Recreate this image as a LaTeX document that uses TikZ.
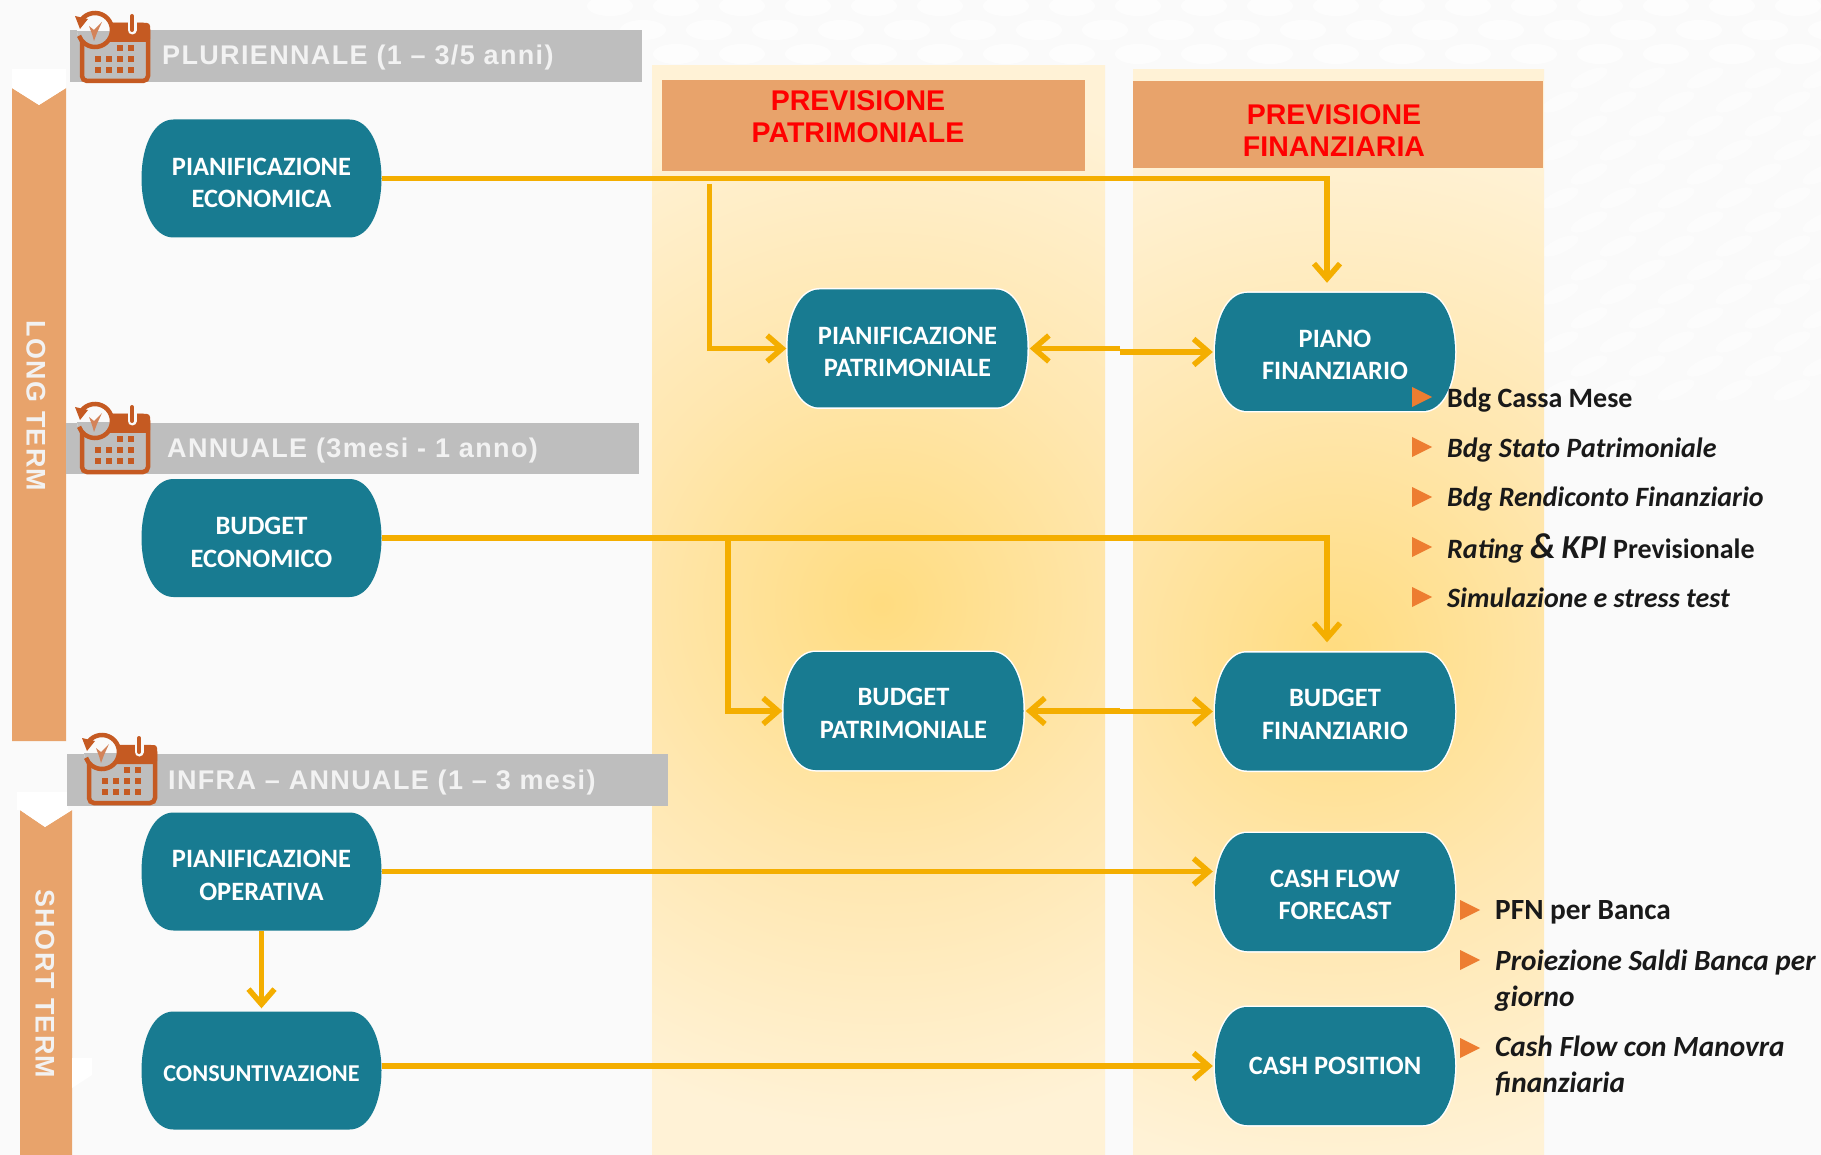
\documentclass[tikz,border=0pt]{standalone}
\usepackage{fontspec}
\usetikzlibrary{arrows.meta,calc}
\newfontfamily\carl{Carlito}
\newfontfamily\arsp[LetterSpace=5]{Liberation Sans}
\newfontfamily\arred{Liberation Sans}
\definecolor{bgc}{HTML}{FAFAFA}
\definecolor{tealn}{HTML}{187B91}
\definecolor{orbar}{HTML}{E8A36B}
\definecolor{grayb}{HTML}{BEBEBE}
\definecolor{goldl}{HTML}{F4AE00}
\definecolor{icon}{HTML}{C55A22}
\definecolor{tri}{HTML}{ED7D31}
\definecolor{glowc}{HTML}{FFDC80}
\definecolor{glowm}{HTML}{FFE7B0}
\definecolor{glowo}{HTML}{FFF2D6}
\pgfdeclareradialshading{glowa}{\pgfpointorigin}{color(0bp)=(glowc); color(11bp)=(glowm); color(22bp)=(glowo); color(71bp)=(glowo)}
\tikzset{
  proc/.style={minimum width=240pt,minimum height=118pt,inner sep=0pt},
  proctext/.style={inner sep=0pt,align=center,text=white,
    font=\carl\bfseries\fontsize{26.5}{32.5}\selectfont},
  conn/.style={draw=goldl,line width=5.5pt,line join=miter},
  arr/.style={conn,-{Straight Barb[length=15pt,width=26pt,line width=5.5pt]}},
  darr/.style={conn,{Straight Barb[length=15pt,width=26pt,line width=5.5pt]}-},
  bandlabel/.style={inner sep=0pt,anchor=west,text=white!95!black,
    font=\arsp\bfseries\fontsize{27}{30}\selectfont},
  headlabel/.style={inner sep=0pt,align=center,text=red,
    font=\arred\bfseries\fontsize{28.5}{32}\selectfont},
  termlabel/.style={inner sep=0pt,rotate=-90,text=white!95!black,
    font=\arsp\bfseries\fontsize{26.9}{30}\selectfont},
  listlabel/.style={inner sep=0pt,anchor=west,align=left,text=black!90,
    font=\carl\bfseries\fontsize{28}{36}\selectfont},
  listlabelb/.style={listlabel,font=\carl\bfseries\fontsize{29.3}{36}\selectfont},
  bullet/.pic={\fill[tri] (0,-10) -- (20,0) -- (0,10) -- cycle;},
  blob/.pic={\path[#1] (-120,0) .. controls (-120,-32) and (-108,-59) .. (-88,-59) -- (88,-59)
     .. controls (108,-59) and (120,-32) .. (120,0)
     .. controls (120,32) and (108,59) .. (88,59) -- (-88,59)
     .. controls (-108,59) and (-120,32) .. (-120,0) -- cycle;},
  calicon/.pic={
    \draw[icon,line width=4.5pt,rounded corners=5pt] (9,15) rectangle (75,71);
    \fill[icon,rounded corners=3pt] (7,13) rectangle (77,32);
    \draw[bgc,line width=9pt,line cap=round] (59,8) -- (59,20);
    \draw[icon,line width=4pt,line cap=round] (59,6) -- (59,20);
    \foreach \px/\py in {47/38,58/38,25/49,36/49,47/49,58/49,25/60,36/60,47/60,58/60}
      \fill[icon] (\px-3,\py-3) rectangle (\px+3,\py+3);
    \fill[bgc] (22,20) circle (18);
    \begin{scope}
      \clip (22,20) circle (18);
      \fill[grayb] (0,21) rectangle (50,50);
    \end{scope}
    \draw[icon,line width=4.5pt] (22,20) ++(215:17) arc[start angle=215,end angle=520,radius=17];
    \fill[icon] (2,6) -- (15,9) -- (7,19) -- cycle;
    \fill[icon!75!white] (21,20) -- (29,12) -- (24,23) -- (21,31) -- (19,24) -- (16,16) -- cycle;
  }
}
\begin{document}
\begin{tikzpicture}[x=1pt,y=-1pt]
\useasboundingbox (0,0) rectangle (1821,1155);
\fill[bgc] (0,0) rectangle (1821,1155);
% faint background texture
\foreach \row in {0,1,2}
  \foreach \col in {0,...,18}
    \fill[white,opacity=.65] ({610+\col*66+mod(\row,2)*33},{6+\row*24}) ellipse [x radius=23,y radius=10];
\foreach \row in {3,...,16}
  \foreach \col in {0,...,4}
    \fill[white,opacity=.5,rotate around={25:({1560+\col*58+mod(\row,2)*29},{6+\row*24})}] ({1560+\col*58+mod(\row,2)*29},{6+\row*24}) ellipse [x radius=20,y radius=7];
% columns
\begin{scope}
  \clip (652,66) rectangle (1105,1155);
  \shade[shading=glowa] (282,4) rectangle (1482,1204);
\end{scope}
\begin{scope}
  \clip (1133,70) rectangle (1544,1155);
  \shade[shading=glowa] (735,50) rectangle (1935,1250);
\end{scope}
% header boxes
\fill[orbar] (662,80) rectangle (1085,171);
\fill[orbar] (1133,81) rectangle (1543,168);
\node[headlabel] (hp) at (858,117) {PREVISIONE\\PATRIMONIALE};
\node[headlabel] (hf) at (1334,131) {PREVISIONE\\FINANZIARIA};
% left bars
\fill[orbar] (12,88) -- (39,105) -- (66,88) -- (66,741) -- (12,741) -- cycle;
\fill[white] (12,69) rectangle (66,88);
\fill[white] (12,88) -- (39,105) -- (66,88) -- cycle;
\fill[orbar] (20,810) -- (45,827) -- (72,810) -- (72,1155) -- (20,1155) -- cycle;
\fill[white] (17,792) rectangle (68,810);
\fill[white] (20,810) -- (45,827) -- (72,810) -- cycle;
\fill[white] (72,1058) -- (92,1058) -- (92,1075) -- (72,1088) -- cycle;
\node[termlabel] (lt) at (36,406) {LONG TERM};
\node[termlabel] (st) at (45,984) {SHORT TERM};
% grey bands
\fill[grayb] (70,30) rectangle (642,82);
\fill[grayb] (66,423) rectangle (639,474);
\fill[grayb] (67,754) rectangle (668,806);
\pic at (73,10) {calicon};
\pic at (73,401) {calicon};
\pic at (80,732) {calicon};
\node[bandlabel] (b1) at (162,57.5) {PLURIENNALE (1 – 3/5 anni)};
\node[bandlabel] (b2) at (167,450.5) {ANNUALE (3mesi - 1 anno)};
\node[bandlabel] (b3) at (168,782.5) {INFRA – ANNUALE (1 – 3 mesi)};
% process nodes
\foreach \cx/\cy in {261.5/178.5,261.5/538,261.5/871.5,261.5/1070.5}
  \pic at (\cx,\cy) {blob={fill=tealn}};
\foreach \cx/\cy in {907.5/348.5,1335/352,903.5/711,1335/711.5,1335/892,1335/1066}{
  \pic at (\cx,\cy) {blob={fill=white,draw=white,line width=3pt}};
  \pic at (\cx,\cy) {blob={fill=tealn}};
}
\node[proc,label={[proctext,yshift=-4.5pt]center:PIANIFICAZIONE\\ECONOMICA}] (PE) at (261.5,178.5) {};
\node[proc,label={[proctext,yshift=-4.5pt]center:BUDGET\\ECONOMICO}] (BE) at (261.5,538) {};
\node[proc,label={[proctext,yshift=-4pt]center:PIANIFICAZIONE\\OPERATIVA}] (PO) at (261.5,871.5) {};
\node[proc,label={[proctext,yshift=-3.5pt,font=\carl\bfseries\fontsize{24.2}{32}\selectfont]center:CONSUNTIVAZIONE}] (CO) at (261.5,1070.5) {};
\node[proc,label={[proctext,yshift=-3.5pt]center:PIANIFICAZIONE\\PATRIMONIALE}] (PP) at (907.5,348.5) {};
\node[proc,label={[proctext,yshift=-3pt]center:PIANO\\FINANZIARIO}] (PF) at (1335,352) {};
\node[proc,label={[proctext,yshift=-2.5pt]center:BUDGET\\PATRIMONIALE}] (BP) at (903.5,711) {};
\node[proc,label={[proctext,yshift=-3pt]center:BUDGET\\FINANZIARIO}] (BF) at (1335,711.5) {};
\node[proc,label={[proctext,yshift=-3pt]center:CASH FLOW\\FORECAST}] (CF) at (1335,892) {};
\node[proc,label={[proctext]center:CASH POSITION}] (CP) at (1335,1066) {};
% connectors
\coordinate (pex) at (1327,0);
\coordinate (pb) at (709.5,184);
\coordinate (bb) at (728,538);
\coordinate (ppj) at (1120,349);
\coordinate (bpj) at (1120,710);
\draw[arr] (PE.east) -- (PE.east -| pex) -- ($(PF.north -| pex)+(0,-10)$);
\draw[arr] (pb) -- (pb |- PP.west) -- ($(PP.west)+(-1,0)$);
\draw[arr] (BE.east) -- (BE.east -| pex) -- ($(BF.north -| pex)+(0,-10)$);
\draw[arr] (bb) -- (bb |- BP.west) -- ($(BP.west)+(-1,0)$);
\draw[darr] ($(PP.east)+(2,0)$) -- (ppj |- PP.east);
\draw[arr] (ppj |- PF.west) -- ($(PF.west)+(-2,0)$);
\draw[darr] ($(BP.east)+(2,0)$) -- (bpj |- BP.east);
\draw[arr] (bpj |- BF.west) -- ($(BF.west)+(-2,0)$);
\draw[arr] (PO.east) -- ($(PO.east -| CF.west)+(-2,0)$);
\draw[arr] (PO.south) -- ($(CO.north)+(0,-3)$);
\coordinate (coe) at (381.5,1066);
\draw[arr] (coe) -- ($(CP.west)+(-2,0)$);
% lists
\foreach \ty in {397,447,497,547,597} \pic at (1412,\ty) {bullet};
\foreach \ty in {910,960,1048} \pic at (1460,\ty) {bullet};
\node[listlabel] (l1) at (1447,400) {Bdg Cassa Mese};
\node[listlabel] (l2) at (1447,450) {\itshape Bdg Stato Patrimoniale};
\node[listlabel] (l3) at (1447,499) {\itshape Bdg Rendiconto Finanziario};
\node[listlabel] (l4) at (1447,548) {{\itshape Rating {\fontsize{36}{36}\selectfont\&} {\fontsize{33.5}{36}\selectfont KPI}} Previsionale};
\node[listlabel] (l5) at (1447,598) {\itshape Simulazione e stress test};
\node[listlabelb] (m1) at (1495,912) {PFN per Banca};
\node[listlabelb] (m2) at (1495,981) {\itshape Proiezione Saldi Banca per\\\itshape giorno};
\node[listlabelb] (m3) at (1495,1066) {\itshape Cash Flow con Manovra\\\itshape finanziaria};
\end{tikzpicture}
\end{document}
